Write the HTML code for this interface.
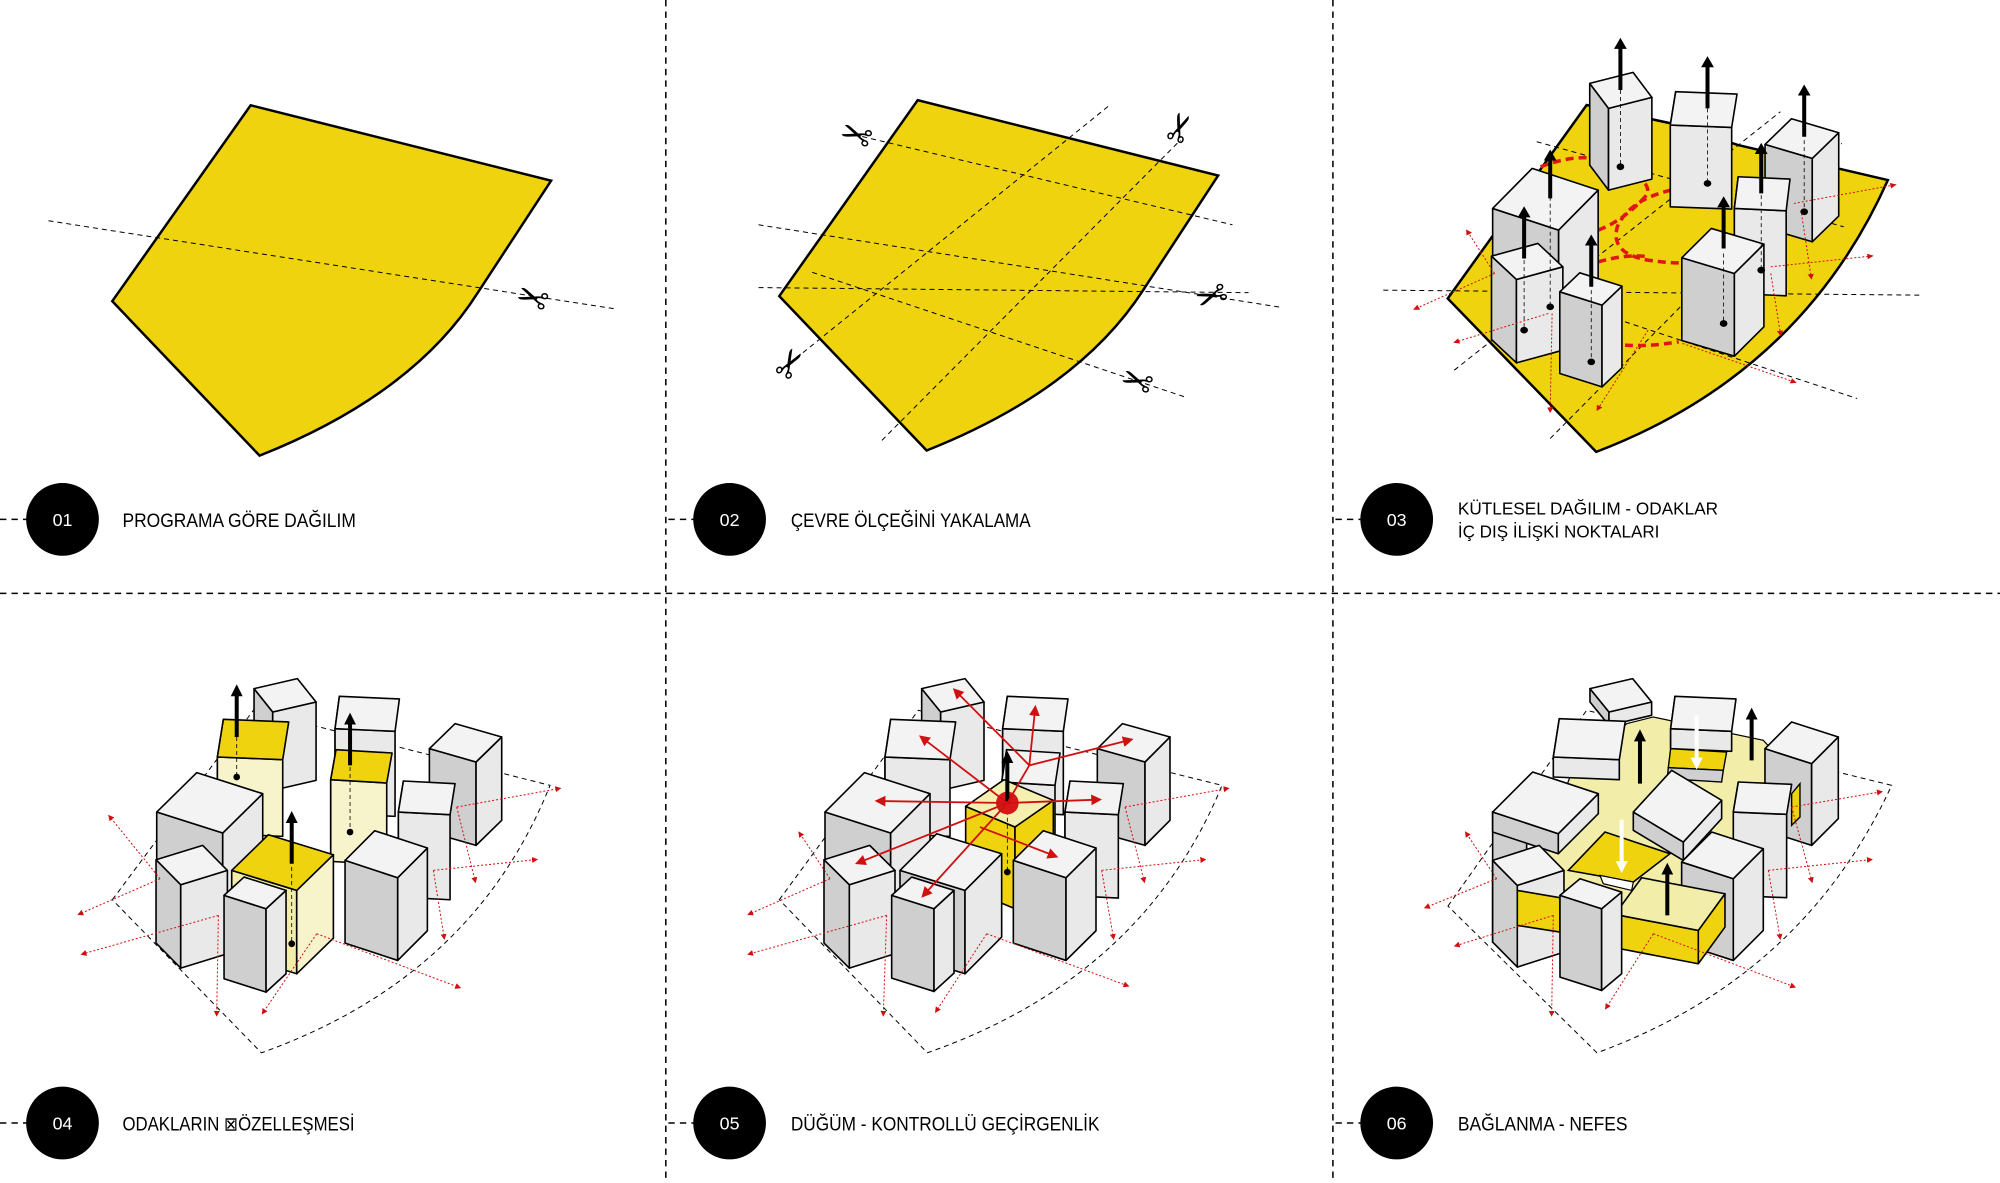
<!DOCTYPE html>
<html><head><meta charset="utf-8">
<style>
html,body{margin:0;padding:0;background:#fff;}
svg{display:block;}
text{font-family:"Liberation Sans",sans-serif;}
</style></head>
<body>
<svg id="s" width="2000" height="1183" viewBox="0 0 1568 927" preserveAspectRatio="none" xmlns="http://www.w3.org/2000/svg">
<defs>
<marker id="ab" viewBox="0 0 10 10" refX="5" refY="5" markerWidth="3" markerHeight="3" orient="auto"><path d="M0,0 L10,5 L0,10 z" fill="#000"/></marker>
<marker id="aw" viewBox="0 0 10 10" refX="5" refY="5" markerWidth="3" markerHeight="3" orient="auto"><path d="M0,0 L10,5 L0,10 z" fill="#fff"/></marker>
<marker id="ar" viewBox="0 0 10 10" refX="5" refY="5" markerWidth="6" markerHeight="6" orient="auto"><path d="M0,0 L10,5 L0,10 z" fill="#d01010"/></marker>
</defs>
<g stroke="#000" stroke-width="1.2" stroke-dasharray="5,4" fill="none">
<line x1="522" y1="0" x2="522" y2="927"/>
<line x1="1045" y1="0" x2="1045" y2="927"/>
<line x1="0" y1="465" x2="1568" y2="465"/>
<line x1="0" y1="407" x2="22" y2="407"/>
<line x1="524" y1="407" x2="545" y2="407"/>
<line x1="1047" y1="407" x2="1068" y2="407"/>
<line x1="0" y1="880" x2="22" y2="880"/>
<line x1="524" y1="880" x2="545" y2="880"/>
<line x1="1047" y1="880" x2="1068" y2="880"/>
</g>
<g id="content"></g>
<g fill="#000">
<circle cx="49" cy="407" r="28.5"/><circle cx="572" cy="407" r="28.5"/><circle cx="1095" cy="407" r="28.5"/>
<circle cx="49" cy="880" r="28.5"/><circle cx="572" cy="880" r="28.5"/><circle cx="1095" cy="880" r="28.5"/>
</g>
<g fill="#fff" font-size="14" text-anchor="middle">
<text x="49" y="412">01</text><text x="572" y="412">02</text><text x="1095" y="412">03</text>
<text x="49" y="885">04</text><text x="572" y="885">05</text><text x="1095" y="885">06</text>
</g>
<g fill="#000" font-size="15">
<text x="96" y="413" textLength="183" lengthAdjust="spacingAndGlyphs">PROGRAMA GÖRE DAĞILIM</text>
<text x="620" y="413" textLength="188" lengthAdjust="spacingAndGlyphs">ÇEVRE ÖLÇEĞİNİ YAKALAMA</text>
<text x="1143" y="403" font-size="14" textLength="204" lengthAdjust="spacingAndGlyphs">KÜTLESEL DAĞILIM - ODAKLAR</text>
<text x="1143" y="421" font-size="14" textLength="158" lengthAdjust="spacingAndGlyphs">İÇ DIŞ İLİŞKİ NOKTALARI</text>
<text x="96" y="886" textLength="182" lengthAdjust="spacingAndGlyphs">ODAKLARIN ⊠ÖZELLEŞMESİ</text>
<text x="620" y="886" textLength="242" lengthAdjust="spacingAndGlyphs">DÜĞÜM - KONTROLLÜ GEÇİRGENLİK</text>
<text x="1143" y="886" textLength="133" lengthAdjust="spacingAndGlyphs">BAĞLANMA - NEFES</text>
</g>
</svg>
<script>
(function(){
var NS="http://www.w3.org/2000/svg";
var root=document.getElementById("content");
function el(tag,attrs,parent){var e=document.createElementNS(NS,tag);for(var k in attrs)e.setAttribute(k,attrs[k]);(parent||root).appendChild(e);return e;}
function pts(a){return a.map(function(p){return p[0]+","+p[1];}).join(" ");}
var C={w:["#f3f3f3","#cfcfcf","#e9e9e9"],y:["#eed30e","#f2eeaa","#f7f4cc"],yy:["#f5f0b0","#eed30e","#eed30e"],p:["#f2eeaa","#eed30e","#eed30e"]};
function box(g,F,L,R,H,t){
  var c=C[t||"w"];var B=[L[0]+R[0]-F[0],L[1]+R[1]-F[1]];
  var st={stroke:"#000","stroke-width":"1.6","stroke-linejoin":"round","vector-effect":"non-scaling-stroke"};
  function P(p,f){var a={points:pts(p),fill:f};for(var k in st)a[k]=st[k];el("polygon",a,g);}
  P([L,F,[F[0],F[1]+H],[L[0],L[1]+H]],c[1]);
  P([F,R,[R[0],R[1]+H],[F[0],F[1]+H]],c[2]);
  P([L,F,R,B],c[0]);
}
function frame(tx,ty,sx,sy){return el("g",{transform:"translate("+tx+","+ty+") scale("+sx+","+(sy||sx)+")"});}
function line(g,a,b,o){var at={x1:a[0],y1:a[1],x2:b[0],y2:b[1],"vector-effect":"non-scaling-stroke"};for(var k in o)at[k]=o[k];return el("line",at,g);}
function dash(g,a,b){line(g,a,b,{stroke:"#000","stroke-width":"1","stroke-dasharray":"5,4"});}
function red(g,a,b){line(g,a,b,{stroke:"#d01010","stroke-width":"1","stroke-dasharray":"2,2","marker-end":"url(#ar)"});}
function reds(g,a,b){line(g,a,b,{stroke:"#d01010","stroke-width":"1.8","marker-end":"url(#ar)"});}
function up(g,x,y1,y2,col){line(g,[x,y1],[x,y2],{stroke:col||"#000","stroke-width":"4","marker-end":"url("+(col=="#fff"?"#aw":"#ab")+")"});}
function dotline(g,x,y1,y2){line(g,[x,y1],[x,y2],{stroke:"#000","stroke-width":"0.8","stroke-dasharray":"4,3"});el("circle",{cx:x,cy:y2,r:10,fill:"#000"},g);}
function scis(x,y,rot){var t=el("text",{x:x,y:y,"font-size":"30","text-anchor":"middle","dominant-baseline":"central",transform:"rotate("+rot+" "+x+" "+y+")",fill:"#000",style:"font-family:'DejaVu Sans',sans-serif"});t.textContent="\u2702";}
var shape="M58,625 L445,48 L1285,270 L1080,600 Q900,900 470,1080 Z";
// ---- Panel 1
var g1=frame(88-58*0.2804,232-625*0.266+4,0.2804,0.266);
el("path",{d:shape,fill:"#eed30e",stroke:"#000","stroke-width":"2.5","vector-effect":"non-scaling-stroke","stroke-linejoin":"miter"},g1);
dash(root,[38,173],[482,242]);
scis(418,232,200);
// ---- Panel 2
var g2=frame(594.7,65.75,0.2804,0.266);
el("path",{d:shape,fill:"#eed30e",stroke:"#000","stroke-width":"2.5","vector-effect":"non-scaling-stroke"},g2);
[[[290,155],[1325,415]],[[0,415],[1460,658]],[[0,600],[1370,615]],[[150,555],[1200,925]],[[85,825],[985,60]],[[345,1050],[1180,165]]].forEach(function(l){dash(g2,l[0],l[1]);});
[[275,145,200],[1180,130,-70],[1265,620,160],[1060,870,200],[90,825,-60]].forEach(function(s){scis(594.7+s[0]*0.2804,65.75+s[1]*0.266,s[2]);});
// ---- Panel 3
var g3=frame(1081.5,31.36,0.3008,0.26133);
el("path",{d:"M178,775 L540,195 L760,250 L935,315 L1325,420 Q1100,1000 565,1235 Z",fill:"#eed30e",stroke:"#000","stroke-width":"2.5","vector-effect":"non-scaling-stroke"},g3);
[[[410,305],[1210,560]],[[10,750],[1410,765]],[[195,990],[1045,215]],[[445,1195],[1205,310]],[[640,845],[1245,1075]]].forEach(function(l){dash(g3,l[0],l[1]);});
var rp={fill:"none",stroke:"#e01515","stroke-width":"3.5","stroke-dasharray":"8,5","vector-effect":"non-scaling-stroke"};
var p1=el("path",{d:"M420,380 Q500,345 560,355 M760,450 Q650,480 620,560 Q600,640 700,660 Q760,670 790,668 M570,570 Q640,540 700,460 Q700,430 680,420 M570,665 Q650,640 700,650 M640,915 Q700,920 780,905"},g3);for(var k in rp)p1.setAttribute(k,rp[k]);
box(g3,[597,205],[548,130],[710,172],245);
box(g3,[758,255],[772,155],[918,262],245);
box(g3,[1128,355],[1005,313],[1197,278],250);
box(g3,[925,505],[935,410],[1060,512],255);
box(g3,[467,570],[295,505],[570,450],300);
box(g3,[357,718],[292,648],[478,680],250);
box(g3,[580,795],[470,755],[632,738],245);
box(g3,[925,700],[788,653],[1002,612],248);
[[628,150,380],[855,205,430],[1107,300,515],[995,465,690],[445,470,800],[377,660,870],[552,750,965],[897,640,850]].forEach(function(a){dotline(g3,a[0],a[1],a[2]);});
[[628,150,10],[855,205,65],[1107,290,150],[995,460,325],[445,475,345],[377,655,515],[552,740,600],[897,625,485]].forEach(function(a){up(g3,a[0],a[1],a[2]);});
red(g3,[300,700],[95,805]);red(g3,[300,700],[230,575]);red(g3,[440,820],[200,905]);red(g3,[450,820],[445,1110]);red(g3,[700,870],[570,1105]);red(g3,[790,910],[1080,1025]);red(g3,[1080,490],[1340,435]);red(g3,[1020,680],[1280,648]);red(g3,[1100,520],[1125,710]);red(g3,[1020,700],[1045,880]);
// ---- Panel 4
var g4=frame(109.8,517.4,0.26133);
el("path",{d:"M-83,718 L340,150 L1230,375 Q1000,950 364,1177 Z",fill:"none",stroke:"#000","stroke-width":"1","stroke-dasharray":"5,4","vector-effect":"non-scaling-stroke"},g4);
box(g4,[398,155],[342,85],[528,125],235);
box(g4,[585,205],[598,108],[765,213],255);
box(g4,[1008,305],[868,265],[1085,230],250);
box(g4,[232,290],[250,177],[428,298],230,"y");
box(g4,[248,518],[50,455],[368,400],300);
box(g4,[572,358],[588,268],[740,368],245,"y");
box(g4,[775,455],[790,362],[930,463],255);
box(g4,[470,690],[275,630],[580,583],250,"y");
box(g4,[122,673],[48,598],[262,630],250);
box(g4,[378,745],[252,705],[438,690],250);
box(g4,[773,652],[615,600],[862,563],248);
dotline(g4,290,230,350);dotline(g4,630,320,515);dotline(g4,455,620,850);
up(g4,290,230,90);up(g4,630,315,175);up(g4,455,610,470);
red(g4,[950,440],[1255,385]);red(g4,[950,440],[1005,660]);red(g4,[880,630],[1185,598]);red(g4,[880,630],[912,830]);red(g4,[530,820],[955,980]);red(g4,[530,820],[370,1055]);red(g4,[235,765],[230,1060]);red(g4,[235,765],[-170,880]);red(g4,[60,655],[-180,760]);red(g4,[60,655],[-90,470]);
// ---- Panel 5
var g5=frame(627.2,517.4,0.26133);
el("path",{d:"M-62,718 L355,150 L1266,375 Q1030,950 382,1177 Z",fill:"none",stroke:"#000","stroke-width":"1","stroke-dasharray":"5,4","vector-effect":"non-scaling-stroke"},g5);
box(g5,[422,155],[365,85],[552,125],235);
box(g5,[608,205],[622,108],[790,213],250);
box(g5,[1035,305],[892,265],[1110,230],250);
box(g5,[255,290],[272,177],[450,298],230);
box(g5,[605,365],[620,268],[765,375],200);
box(g5,[645,500],[497,438],[760,420],245,"yy");
box(g5,[795,455],[810,362],[955,463],250);
box(g5,[272,518],[75,455],[390,400],300);
box(g5,[495,690],[300,630],[605,580],250);
box(g5,[148,673],[72,598],[285,630],250);
box(g5,[402,745],[275,705],[462,690],248);
box(g5,[798,652],[640,600],[888,563],248);
dotline(g5,622,430,635);
el("circle",{cx:622,cy:428,r:34,fill:"#d81818"},g5);
up(g5,622,430,290);
var c0=[622,428];
reds(g5,[688,315],[470,95]);reds(g5,[688,315],[705,150]);reds(g5,[688,315],[985,240]);line(g5,c0,[688,315],{stroke:"#d01010","stroke-width":"1.8"});
reds(g5,c0,[370,235]);reds(g5,c0,[890,418]);reds(g5,c0,[240,422]);reds(g5,[540,500],[760,585]);reds(g5,c0,[180,605]);reds(g5,c0,[375,700]);
red(g5,[975,440],[1280,385]);red(g5,[975,440],[1032,660]);red(g5,[905,630],[1210,598]);red(g5,[905,630],[940,830]);red(g5,[560,820],[980,975]);red(g5,[560,820],[410,1050]);red(g5,[260,765],[250,1060]);red(g5,[260,765],[-150,880]);red(g5,[90,655],[-150,760]);red(g5,[90,655],[0,520]);
// ---- Panel 6
var g6=frame(1121.1,517.4,0.26133);
el("path",{d:"M54,737 L470,150 L1385,375 Q1120,950 501,1177 Z",fill:"none",stroke:"#000","stroke-width":"1","stroke-dasharray":"5,4","vector-effect":"non-scaling-stroke"},g6);
el("polygon",{points:"420,350 590,190 670,170 1000,240 1110,360 1000,520 880,700 800,905 555,860 260,690 340,560",fill:"#f2eeaa",stroke:"#000","stroke-width":"1.2","vector-effect":"non-scaling-stroke"},g6);
box(g6,[537,155],[480,85],[665,125],40);
box(g6,[370,290],[388,175],[568,298],60);
box(g6,[722,205],[735,108],[905,213],60);
el("polygon",{points:"722,265 890,275 880,330 715,322",fill:"#eed30e",stroke:"#000","stroke-width":"1.4","vector-effect":"non-scaling-stroke"},g6);
el("polygon",{points:"715,322 880,330 875,365 712,355",fill:"#d0d0d0",stroke:"#000","stroke-width":"1.4","vector-effect":"non-scaling-stroke"},g6);
box(g6,[1145,310],[1005,265],[1225,230],245);
el("polygon",{points:"1085,400 1110,370 1110,470 1085,495",fill:"#eed30e",stroke:"#000","stroke-width":"1.4","vector-effect":"non-scaling-stroke"},g6);
el("polygon",{points:"188,455 290,500 290,880 188,845",fill:"#cfcfcf",stroke:"#000","stroke-width":"1.6","vector-effect":"non-scaling-stroke"},g6);
box(g6,[385,520],[188,455],[505,400],60);
box(g6,[760,545],[610,455],[875,420],55);
box(g6,[910,455],[925,365],[1070,462],250);
el("polygon",{points:"415,630 525,515 720,580 610,665",fill:"#eed30e",stroke:"#000","stroke-width":"1.6","vector-effect":"non-scaling-stroke"},g6);
el("polygon",{points:"510,645 610,665 605,690 520,670",fill:"#fff",stroke:"#000","stroke-width":"1.2","vector-effect":"non-scaling-stroke"},g6);
box(g6,[262,675],[188,600],[402,630],245);
el("polygon",{points:"262,690 390,712 390,815 262,795",fill:"#eed30e",stroke:"#000","stroke-width":"1.6","vector-effect":"non-scaling-stroke"},g6);
box(g6,[910,655],[755,605],[1000,565],245);
box(g6,[805,810],[555,762],[885,700],100,"p");
box(g6,[515,745],[390,705],[575,695],245);
up(g6,630,370,225);up(g6,965,300,160);up(g6,712,765,625);
up(g6,800,165,310,"#fff");up(g6,575,478,620,"#fff");
red(g6,[1085,440],[1350,395]);red(g6,[1085,440],[1145,660]);red(g6,[1015,630],[1320,598]);red(g6,[1015,630],[1050,830]);red(g6,[670,820],[1090,978]);red(g6,[670,820],[530,1040]);red(g6,[370,765],[365,1060]);red(g6,[370,765],[80,855]);red(g6,[200,655],[-10,740]);red(g6,[200,655],[110,520]);
})();
</script>
</body></html>
